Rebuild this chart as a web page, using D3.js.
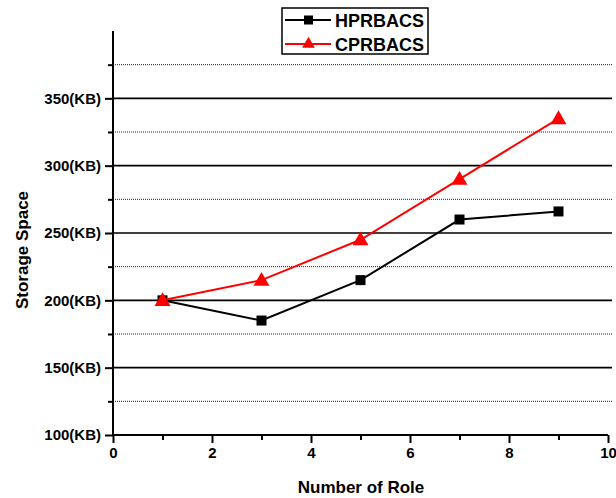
<!DOCTYPE html>
<html><head><meta charset="utf-8">
<script src="https://cdn.jsdelivr.net/npm/d3@7"></script>
<style>body{margin:0;background:#fff;}svg{display:block;}text{font-family:"Liberation Sans",Arial,sans-serif;}</style>
</head><body><svg id="c" width="616" height="498"></svg>
<script>
const roles = [1, 3, 5, 7, 9];
const hprbacs = [200, 185, 215, 260, 266];
const cprbacs = [200, 215, 245, 290, 335];
const xTicks = [0, 2, 4, 6, 8, 10];
const xMinor = [1, 3, 5, 7, 9];
const yTicks = [100, 150, 200, 250, 300, 350];
const yMinor = [125, 175, 225, 275, 325, 375];
const seriesNames = ["HPRBACS", "CPRBACS"];

const svg = d3.select("#c");
const L = 113, R = 608, T = 31, B = 435;
const x = d3.scaleLinear().domain([0, 10]).range([L, R]);
const y = d3.scaleLinear().domain([100, 400]).range([B, T]);

// grid
svg.append("g").selectAll("line").data(yTicks.slice(1)).join("line")
  .attr("x1", L).attr("x2", 612).attr("y1", d => y(d)).attr("y2", d => y(d))
  .attr("stroke", "#000").attr("stroke-width", 1.6);
svg.append("g").selectAll("line").data(yMinor).join("line")
  .attr("x1", L).attr("x2", 612).attr("y1", d => y(d)).attr("y2", d => y(d))
  .attr("stroke", "#222").attr("stroke-width", 1).attr("stroke-dasharray", "1,1");

// axes
const xAxis = svg.append("g").attr("transform", `translate(0,${B})`)
  .call(d3.axisBottom(x).tickValues(xTicks).tickSize(8).tickPadding(4).tickFormat(d3.format("d")));
const xMin = svg.append("g").attr("transform", `translate(0,${B})`)
  .call(d3.axisBottom(x).tickValues(xMinor).tickSize(5).tickFormat(""));
const yAxis = svg.append("g").attr("transform", `translate(${L},0)`)
  .call(d3.axisLeft(y).tickValues(yTicks).tickSize(8).tickPadding(4).tickFormat(d => d + "(KB)"));
const yMin = svg.append("g").attr("transform", `translate(${L},0)`)
  .call(d3.axisLeft(y).tickValues(yMinor).tickSize(5).tickFormat(""));
[xAxis, xMin, yAxis, yMin].forEach(g => {
  g.select(".domain").attr("stroke", "#000").attr("stroke-width", 2);
  g.selectAll(".tick line").attr("stroke", "#000").attr("stroke-width", 2);
  g.selectAll("text").attr("font-size", 15).attr("font-weight", "bold").attr("fill", "#000");
});
xMin.select(".domain").remove(); yMin.select(".domain").remove();
xAxis.select(".domain").attr("d", `M${L},0H${R}`);
yAxis.select(".domain").attr("d", `M0,${B}V${T}`);

// titles
svg.append("text").attr("x", 361).attr("y", 493).attr("text-anchor", "middle")
  .attr("font-size", 17).attr("font-weight", "bold").text("Number of Role");
svg.append("text").attr("transform", "translate(28,250) rotate(-90)").attr("text-anchor", "middle")
  .attr("font-size", 17).attr("font-weight", "bold").text("Storage Space");

const line = d3.line().x((d, i) => x(roles[i])).y(d => y(d));
const tri = d3.symbol().type(d3.symbolTriangle).size(110);

// series
svg.append("path").datum(hprbacs).attr("d", line).attr("fill", "none").attr("stroke", "#000").attr("stroke-width", 2);
svg.append("g").selectAll("rect").data(hprbacs).join("rect")
  .attr("x", (d, i) => x(roles[i]) - 5).attr("y", d => y(d) - 5).attr("width", 10).attr("height", 10).attr("fill", "#000");
svg.append("path").datum(cprbacs).attr("d", line).attr("fill", "none").attr("stroke", "#ff0000").attr("stroke-width", 2);
svg.append("g").selectAll("path").data(cprbacs).join("path")
  .attr("transform", (d, i) => `translate(${x(roles[i])},${y(d) + 1})`).attr("d", tri).attr("fill", "#ff0000");

// legend
const lg = svg.append("g");
lg.append("rect").attr("x", 282).attr("y", 8).attr("width", 146).attr("height", 46)
  .attr("fill", "#fff").attr("stroke", "#000").attr("stroke-width", 1.5);
const colors = ["#000", "#ff0000"];
seriesNames.forEach((n, i) => {
  const cy = 20 + i * 24;
  lg.append("line").attr("x1", 285).attr("x2", 331).attr("y1", cy).attr("y2", cy).attr("stroke", colors[i]).attr("stroke-width", 2);
  if (i === 0) lg.append("rect").attr("x", 304).attr("y", cy - 4.5).attr("width", 9).attr("height", 9).attr("fill", "#000");
  else lg.append("path").attr("transform", `translate(308.5,${cy})`).attr("d", d3.symbol().type(d3.symbolTriangle).size(70)).attr("fill", "#ff0000");
  lg.append("text").attr("x", 335).attr("y", cy + 7).attr("font-size", 18).attr("font-weight", "bold").attr("fill", "#000").text(n);
});
</script></body></html>
